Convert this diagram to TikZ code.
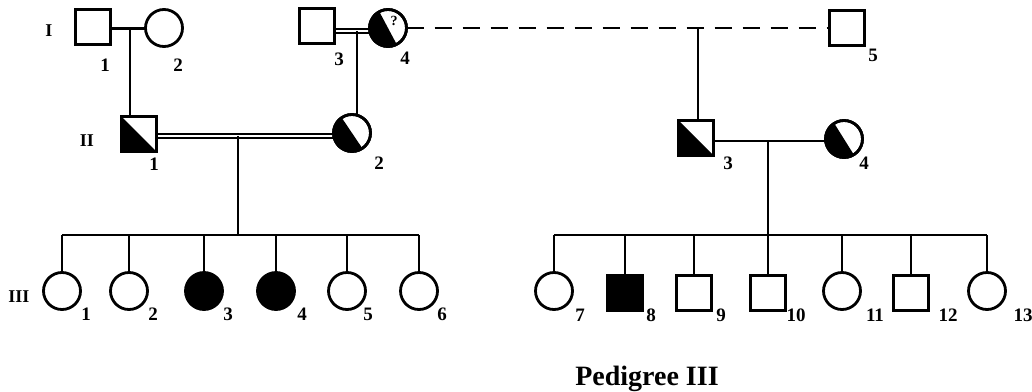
\documentclass[tikz,border=0pt]{standalone}
\usepackage{fontspec}
\setmainfont{Liberation Serif}
\usetikzlibrary{backgrounds}
\begin{document}
\begin{tikzpicture}[x=1pt,y=-1pt,
  male/.style={draw, rectangle, fill=white, minimum size=35pt, inner sep=0pt, outer sep=0pt, line width=2.8pt},
  female/.style={draw, circle, fill=white, minimum size=37pt, inner sep=0pt, outer sep=0pt, line width=2.8pt},
  affected/.style={fill=black},
  conn/.style={line width=2.8pt},
  consang/.style={double=white, line width=1.9pt, double distance=2.2pt},
  distant/.style={line width=2.8pt, dash pattern=on 17pt off 11pt},
  num/.style={font=\fontsize{19}{19}\selectfont\bfseries, inner sep=0pt},
  gen/.style={font=\fontsize{18}{18}\selectfont\bfseries, inner sep=0pt},
  qmark/.style={font=\fontsize{14}{14}\selectfont\bfseries, inner sep=0pt},
  title/.style={font=\fontsize{28}{28}\selectfont\bfseries, inner sep=0pt, anchor=base},
]
\useasboundingbox (0,0) rectangle (1032,391);

% ---------- generation I ----------
\node[male]   (I1) at (93,27)  {};
\node[female] (I2) at (164,28) {};
\node[male]   (I3) at (317,26) {};
\node[female] (I4) at (388,28) {};
\node[male]   (I5) at (847,28) {};

% ---------- generation II ----------
\node[male]   (II1) at (139,134) {};
\node[female] (II2) at (352,133) {};
\node[male]   (II3) at (696,138) {};
\node[female] (II4) at (844,139) {};

% ---------- generation III ----------
\node[female] (III1) at (62,291) {};
\node[female] (III2) at (129,291) {};
\node[female,affected] (III3) at (204,291) {};
\node[female,affected] (III4) at (276,291) {};
\node[female] (III5) at (347,291) {};
\node[female] (III6) at (419,291) {};

\node[female] (III7) at (554,291) {};
\node[male,affected] (III8) at (625,293) {};
\node[male]   (III9) at (694,293) {};
\node[male]   (III10) at (768,293) {};
\node[female] (III11) at (842,291) {};
\node[male]   (III12) at (911,293) {};
\node[female] (III13) at (987,291) {};

% ---------- heterozygous carriers (half filled) ----------
\fill (II1.north west) -- (II1.south west) -- (II1.south east) -- cycle;
\draw[line width=2.8pt] (II1.north west) rectangle (II1.south east);
\fill (II3.north west) -- (II3.south west) -- (II3.south east) -- cycle;
\draw[line width=2.8pt] (II3.north west) rectangle (II3.south east);

\foreach \n/\a in {I4/118, II2/124, II4/122}{
  \fill (\n.\a) \foreach \t in {0,5,...,180}{ -- (\n.{\a+\t}) } -- cycle;
  \draw[line width=2.8pt] (\n.center) circle[radius=18.5pt];
}
\node[qmark] (q) at (394,21) {?};

% ---------- connectors ----------
\coordinate (m1) at (130,28.5);
\coordinate (m2) at (357,31);
\coordinate (d5) at (698,28);
\coordinate (m4) at (238,136);
\coordinate (m3) at (768,141);
\coordinate (s1) at (238,235);
\coordinate (s2) at (768,235);

\begin{pgfonlayer}{background}
  % matings
  \draw[conn] (I1.east |- m1) -- (I2.west |- m1);
  \draw[consang] (I3.east |- m2) -- (I4.west |- m2);
  \draw[distant] (I4.east) -- (I5.west);
  \draw[consang] (II1.east |- m4) -- (II2.west |- m4);
  \draw[conn] (II3.east |- m3) -- (II4.west |- m3);
  % lines of descent
  \draw[conn] (m1) -- (m1 |- II1.north);
  \draw[conn] (m2) -- (m2 |- II2.north);
  \draw[conn] (d5) -- (d5 |- II3.north);
  \draw[conn] (m4) -- (s1);
  \draw[conn] (m3) -- (s2);
  % sibships
  \draw[conn] (III1.north |- s1) -- (III6.north |- s1);
  \foreach \c in {III1,III2,III3,III4,III5,III6}{
    \draw[conn] (\c.north |- s1) -- (\c.north);
  }
  \draw[conn] (III7.north |- s2) -- (III13.north |- s2);
  \foreach \c in {III7,III8,III9,III10,III11,III12,III13}{
    \draw[conn] (\c.north |- s2) -- (\c.north);
  }
\end{pgfonlayer}

% ---------- generation labels ----------
\node[gen] (gI)   at (49,31)  {I};
\node[gen] (gII)  at (87,141) {II};
\node[gen] (gIII) at (19,297) {III};

% ---------- individual numbers ----------
\node[num] (nI1) at (105,65) {1};
\node[num] (nI2) at (178,65) {2};
\node[num] (nI3) at (339,59) {3};
\node[num] (nI4) at (405,58) {4};
\node[num] (nI5) at (873,55) {5};

\node[num] (nII1) at (154,164) {1};
\node[num] (nII2) at (379,163) {2};
\node[num] (nII3) at (728,163) {3};
\node[num] (nII4) at (864,163) {4};

\node[num] (nIII1) at (86,314) {1};
\node[num] (nIII2) at (153,314) {2};
\node[num] (nIII3) at (228,314) {3};
\node[num] (nIII4) at (302,314) {4};
\node[num] (nIII5) at (368,314) {5};
\node[num] (nIII6) at (442,314) {6};
\node[num] (nIII7) at (580,315) {7};
\node[num] (nIII8) at (651,315) {8};
\node[num] (nIII9) at (721,315) {9};
\node[num] (nIII10) at (796,315) {10};
\node[num] (nIII11) at (875,315) {11};
\node[num] (nIII12) at (948,315) {12};
\node[num] (nIII13) at (1023,315) {13};

% ---------- caption ----------
\node[title] (cap) at (647,385) {Pedigree III};
\end{tikzpicture}
\end{document}
